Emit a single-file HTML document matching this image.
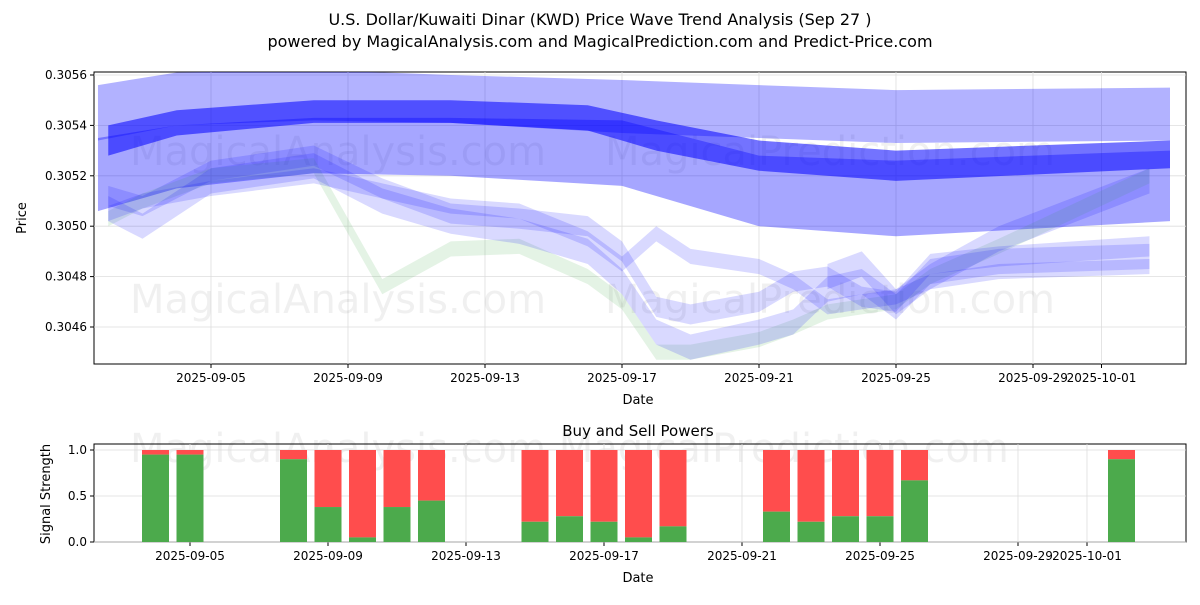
<!DOCTYPE html>
<html><head><meta charset="utf-8"><style>
body{margin:0;background:#fff;font-family:"Liberation Sans","DejaVu Sans",sans-serif}
svg text{font-family:"DejaVu Sans","Liberation Sans",sans-serif}
</style></head><body>
<svg id="c" width="1200" height="600" xmlns="http://www.w3.org/2000/svg">
<text x="600" y="25" text-anchor="middle" font-size="16">U.S. Dollar/Kuwaiti Dinar (KWD) Price Wave Trend Analysis (Sep 27 )</text>
<text x="600" y="47" text-anchor="middle" font-size="16">powered by MagicalAnalysis.com and MagicalPrediction.com and Predict-Price.com</text>
<g id="topG"></g>
<g id="botG"></g>
</svg>
<script>
const tickDays=[4,8,12,16,20,24,28,30];
const tickLabels=["2025-09-05","2025-09-09","2025-09-13","2025-09-17","2025-09-21","2025-09-25","2025-09-29","2025-10-01"];
const yTicks=[0.3046,0.3048,0.3050,0.3052,0.3054,0.3056];
const bandDaysTop=[0.7,3,7,11,16,20,24,32];
const b1Up=[0.30556,0.30561,0.30562,0.30560,0.30558,0.30556,0.30554,0.30555];
const b1Lo=[0.30534,0.30540,0.30542,0.30541,0.30537,0.30535,0.30533,0.30534];
const b2Days=[1,3,7,11,15,17,20,24,32];
const b2Up=[0.30540,0.30546,0.30550,0.30550,0.30548,0.30542,0.30534,0.30530,0.30534];
const b2Lo=[0.30528,0.30536,0.30541,0.30541,0.30538,0.30530,0.30522,0.30518,0.30523];
const b3Up=[0.30535,0.30540,0.30543,0.30543,0.30542,0.30528,0.30526,0.30530];
const b3Lo=[0.30506,0.30515,0.30521,0.30520,0.30516,0.30500,0.30496,0.30502];
const lowDays=[1,2,4,7,9,11,13,15,16,17,18,20,21,22,23,24,25,27,31.4];
const l1=[0.30507,0.30500,0.30518,0.30524,0.30510,0.30502,0.30498,0.30490,0.30478,0.30458,0.30452,0.30458,0.30462,0.30475,0.30478,0.30468,0.30482,0.30486,0.30488];
const l2=[0.30512,0.30508,0.30522,0.30528,0.30515,0.30505,0.30503,0.30500,0.30490,0.30468,0.30465,0.30470,0.30478,0.30480,0.30472,0.30470,0.30485,0.30488,0.30492];
const l3=[0.30505,0.30510,0.30515,0.30520,0.30514,0.30508,0.30506,0.30495,0.30485,0.30497,0.30488,0.30484,0.30478,0.30468,0.30470,0.30472,0.30478,0.30482,0.30484];
const green=[0.30503,0.30510,0.30520,0.30524,0.30476,0.30491,0.30492,0.30480,0.30470,0.30450,0.30450,0.30455,0.30460,0.30466,0.30468,0.30470,0.30480,0.30492,0.30520];
const riseDays=[22,23,24,25,27,31.4];
const rise=[0.30480,0.30485,0.30470,0.30480,0.30495,0.30518];
const barDays=[3,4,7,8,9,10,11,14,15,16,17,18,21,22,23,24,25,31];
const buyVals=[0.95,0.95,0.9,0.38,0.05,0.38,0.45,0.22,0.28,0.22,0.05,0.17,0.33,0.22,0.28,0.28,0.67,0.9];

const NS="http://www.w3.org/2000/svg";
const X=d=>74+34.25*d;
const XB=d=>190+34.5*(d-4);
const Y=v=>75+(0.3056-v)/0.0002*50.4;
const YB=v=>542-v*92;
const topG=document.getElementById('topG'),botG=document.getElementById('botG');
function mk(p,tag,at){const e=document.createElementNS(NS,tag);for(const k in at)e.setAttribute(k,at[k]);p.appendChild(e);return e;}
function frame(g,y0,y1,xf){
  const r=mk(g,'rect',{x:94,y:y0,width:1092,height:y1-y0,fill:'none',stroke:'#000','stroke-width':1});
  
  
  tickDays.forEach((d,i)=>{
    mk(g,'line',{x1:xf(d),x2:xf(d),y1:y0,y2:y1,stroke:'#ddd','stroke-width':0.8});
    mk(g,'line',{x1:xf(d),x2:xf(d),y1:y1,y2:y1+4,stroke:'#000'});
    const t=mk(g,'text',{x:xf(d),y:y1+18,'text-anchor':'middle','font-size':12});t.textContent=tickLabels[i];
    
    
  });
}
frame(topG,72,364,X);
yTicks.forEach(v=>{
  mk(topG,'line',{x1:94,x2:1186,y1:Y(v),y2:Y(v),stroke:'#ddd','stroke-width':0.8});
  mk(topG,'line',{x1:90,x2:94,y1:Y(v),y2:Y(v),stroke:'#000'});
  const t=mk(topG,'text',{x:87,y:Y(v)+4,'text-anchor':'end','font-size':12});t.textContent=v.toFixed(4);
  
  
});
[[130,'MagicalAnalysis.com',165],[605,'MagicalPrediction.com',165],[130,'MagicalAnalysis.com',313],[605,'MagicalPrediction.com',313]].forEach(w=>{
  const t=mk(topG,'text',{x:w[0],y:w[2],'font-size':40,fill:'#000','fill-opacity':0.06});t.textContent=w[1];
  
  
});
const defs=mk(topG,'defs',{});
const clip=mk(defs,'clipPath',{id:'cp'});mk(clip,'rect',{x:94,y:72,width:1092,height:292});
const bands=mk(topG,'g',{'clip-path':'url(#cp)'});
function band(days,up,lo,col,op,name){
  let pts=days.map((d,i)=>X(d)+','+Y(up[i]));
  pts=pts.concat(days.map((d,i)=>X(d)+','+Y(lo[i])).reverse());
  const p=mk(bands,'polygon',{points:pts.join(' '),fill:col,'fill-opacity':op});
  
  
}
function cband(days,c,hw,col,op,name){band(days,c.map(v=>v+hw),c.map(v=>v-hw),col,op,name);}
band(bandDaysTop,b1Up,b1Lo,'#0000ff',0.3,'wave-band-top');
band(bandDaysTop,b3Up,b3Lo,'#0000ff',0.35,'wave-band-mid');
band(b2Days,b2Up,b2Lo,'#0000ff',0.55,'wave-band-core');
cband(lowDays,green,0.00003,'#4caf50',0.15,'wave-band-green');
cband(lowDays,l1,0.00005,'#0000ff',0.15,'wave-band-low-1');
cband(lowDays,l2,0.00004,'#0000ff',0.15,'wave-band-low-2');
cband(lowDays,l3,0.00003,'#0000ff',0.15,'wave-band-low-3');
cband(riseDays,rise,0.00005,'#0000ff',0.15,'wave-band-rise');
let t=mk(topG,'text',{x:638,y:404,'text-anchor':'middle','font-size':13});t.textContent='Date';


t=mk(topG,'text',{x:26,y:218,'text-anchor':'middle','font-size':13,transform:'rotate(-90 26 218)'});t.textContent='Price';


const wm=mk(botG,'text',{x:130,y:462,'font-size':40,fill:'#000','fill-opacity':0.06});wm.textContent='MagicalAnalysis.com    MagicalPrediction.com';


frame(botG,444,542,XB);
[0,0.5,1].forEach(v=>{
  mk(botG,'line',{x1:94,x2:1186,y1:YB(v),y2:YB(v),stroke:'#ddd','stroke-width':0.8});
  mk(botG,'line',{x1:90,x2:94,y1:YB(v),y2:YB(v),stroke:'#000'});
  const tt=mk(botG,'text',{x:87,y:YB(v)+4,'text-anchor':'end','font-size':12});tt.textContent=v.toFixed(1);
  
  
});
barDays.forEach((d,i)=>{
  const w=27,x=XB(d)-w/2,b=buyVals[i];
  const s=mk(botG,'rect',{x:x,y:YB(1),width:w,height:YB(b)-YB(1),fill:'#ff4d4d'});
  
  
  const g=mk(botG,'rect',{x:x,y:YB(b),width:w,height:YB(0)-YB(b),fill:'#4caa4c'});
  
  
});
t=mk(botG,'text',{x:638,y:436,'text-anchor':'middle','font-size':15});t.textContent='Buy and Sell Powers';


t=mk(botG,'text',{x:638,y:582,'text-anchor':'middle','font-size':13});t.textContent='Date';


t=mk(botG,'text',{x:50,y:494,'text-anchor':'middle','font-size':13,transform:'rotate(-90 50 494)'});t.textContent='Signal Strength';


</script>
</body></html>
